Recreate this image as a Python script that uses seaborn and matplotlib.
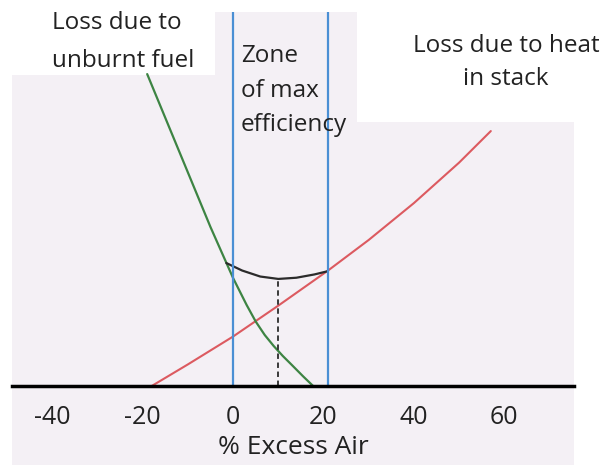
import matplotlib
matplotlib.use("Agg")
import matplotlib.pyplot as plt
from matplotlib.patches import Rectangle
import seaborn as sns

# values (x = % excess air, y = loss in arbitrary units)
stack_x = [-18, -10, 0, 10, 21, 30, 40, 50, 57]
stack_loss = [0, 7.2, 16.5, 26.8, 38.5, 48.7, 61, 74.5, 85]

fuel_x = [-19, -12, -5, 0, 3, 5, 7, 9, 11, 13, 15.5, 17.7]
fuel_loss = [104, 78.5, 53, 36, 27, 21.5, 17, 13.3, 10, 7, 3.2, 0]

total_x = [-1.5, 2, 6, 10, 14, 18, 21]
total_loss = [41, 38.5, 36.5, 35.7, 36.1, 37.2, 38.3]

zone_edges = [0, 21]
optimum_x = 10
optimum_loss = 35.7

xticks = [-40, -20, 0, 20, 40, 60]

W, H = 614, 465

sns.set_theme(style="white")
plt.rcParams['font.family'] = ['Open Sans', 'DejaVu Sans']


def fx(px):
    return px / W


def fy(py):
    return 1 - py / H


fig = plt.figure(figsize=(W / 100, H / 100), dpi=100, facecolor='white')

# lavender panel and the white boxes behind the labels
fig.patches.append(Rectangle((fx(12), fy(465)), fx(574) - fx(12), fy(12) - fy(465),
                             transform=fig.transFigure, facecolor='#f4f0f5',
                             edgecolor='none', zorder=-2))
for x0, x1, y1 in [(12, 215, 75), (357, 574, 122)]:
    fig.patches.append(Rectangle((fx(x0), fy(y1)), fx(x1) - fx(x0), fy(0) - fy(y1),
                                 transform=fig.transFigure, facecolor='white',
                                 edgecolor='none', zorder=-1))

ax = fig.add_axes([fx(12), fy(386), fx(574) - fx(12), fy(12) - fy(386)])
ax.set_facecolor('none')

sns.lineplot(x=stack_x, y=stack_loss, ax=ax, color='#dc5a60', lw=1.5)
sns.lineplot(x=fuel_x, y=fuel_loss, ax=ax, color='#3d8443', lw=1.6)
sns.lineplot(x=total_x, y=total_loss, ax=ax, color='#2b2b2b', lw=1.6)
for edge in zone_edges:
    ax.axvline(edge, color='#4a8fd4', lw=1.6)
ax.vlines(optimum_x, 0, optimum_loss, colors='#2b2b2b', linestyles=(0, (3, 2)), lw=1.3)

ax.set_xlim(-48.9, 75.4)
ax.set_ylim(0, 124.7)
ax.set_xticks(xticks)
ax.set_xticklabels([str(t) for t in xticks])
ax.set_yticks([])
ax.tick_params(axis='x', length=0, pad=14, labelsize=18, colors='#222222')
ax.set_xlabel('% Excess Air', fontsize=19, color='#222222', labelpad=3)
ax.set_ylabel('')
for side in ['top', 'left', 'right']:
    ax.spines[side].set_visible(False)
ax.spines['bottom'].set_linewidth(2.5)
ax.spines['bottom'].set_color('black')
ax.spines['bottom'].set_zorder(5)

# annotation lines, placed by baseline
txt = dict(fontsize=17.5, color='#222222', va='baseline')
fig.text(fx(52), fy(29), 'Loss due to', ha='left', **txt)
fig.text(fx(52), fy(67), 'unburnt fuel', ha='left', **txt)
fig.text(fx(241), fy(62), 'Zone', ha='left', **txt)
fig.text(fx(241), fy(97), 'of max', ha='left', **txt)
fig.text(fx(241), fy(131), 'efficiency', ha='left', **txt)
fig.text(fx(506), fy(52), 'Loss due to heat', ha='center', **txt)
fig.text(fx(506), fy(85), 'in stack', ha='center', **txt)

fig.savefig('out.png', dpi=100, facecolor='white')
